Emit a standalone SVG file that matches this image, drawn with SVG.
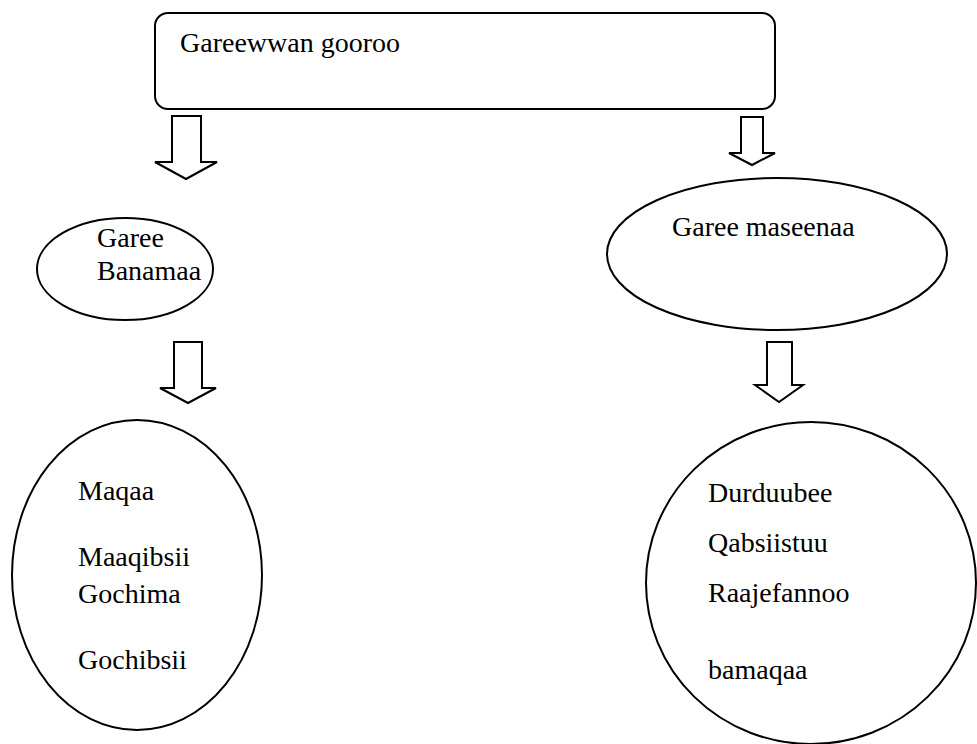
<svg xmlns="http://www.w3.org/2000/svg" width="977" height="744" viewBox="0 0 977 744">
<style>
.s{fill:#fff;stroke:#000;stroke-width:2}
.a{fill:#fff;stroke:#000;stroke-width:2;stroke-linejoin:miter}
text{font-family:"Liberation Serif","Times New Roman",serif;font-size:28px;fill:#000}
</style>
<rect width="977" height="744" fill="#fff"/>
<g id="connectors">
<polygon class="a" points="172,116 201,116 201,162 217,162 186,179 155,162 172,162"/>
<polygon class="a" points="741,117 763,117 763,153 775,153 752,165 729,153 741,153"/>
<polygon class="a" points="174,342 202,342 202,388 216,388 188,403 160,388 174,388"/>
<polygon class="a" points="767,342 792,342 792,385 803,385 779,402 755,385 767,385"/>
</g>
<g id="root">
<rect class="s" x="155" y="13" width="620" height="96" rx="13"/>
<text x="180" y="52">Gareewwan gooroo</text>
</g>
<g id="garee-banamaa">
<ellipse class="s" cx="125" cy="269" rx="88" ry="51"/>
<text x="97" y="247">Garee</text>
<text x="97" y="280">Banamaa</text>
</g>
<g id="garee-maseenaa">
<ellipse class="s" cx="777" cy="254" rx="170" ry="76"/>
<text x="672" y="236">Garee maseenaa</text>
</g>
<g id="list-left">
<ellipse class="s" cx="137" cy="575" rx="125" ry="155"/>
<text x="78" y="500">Maqaa</text>
<text x="78" y="566">Maaqibsii</text>
<text x="78" y="603">Gochima</text>
<text x="78" y="669">Gochibsii</text>
</g>
<g id="list-right">
<ellipse class="s" cx="811" cy="583" rx="165" ry="161"/>
<text x="708" y="502">Durduubee</text>
<text x="708" y="552">Qabsiistuu</text>
<text x="708" y="602">Raajefannoo</text>
<text x="708" y="679">bamaqaa</text>
</g>
</svg>
